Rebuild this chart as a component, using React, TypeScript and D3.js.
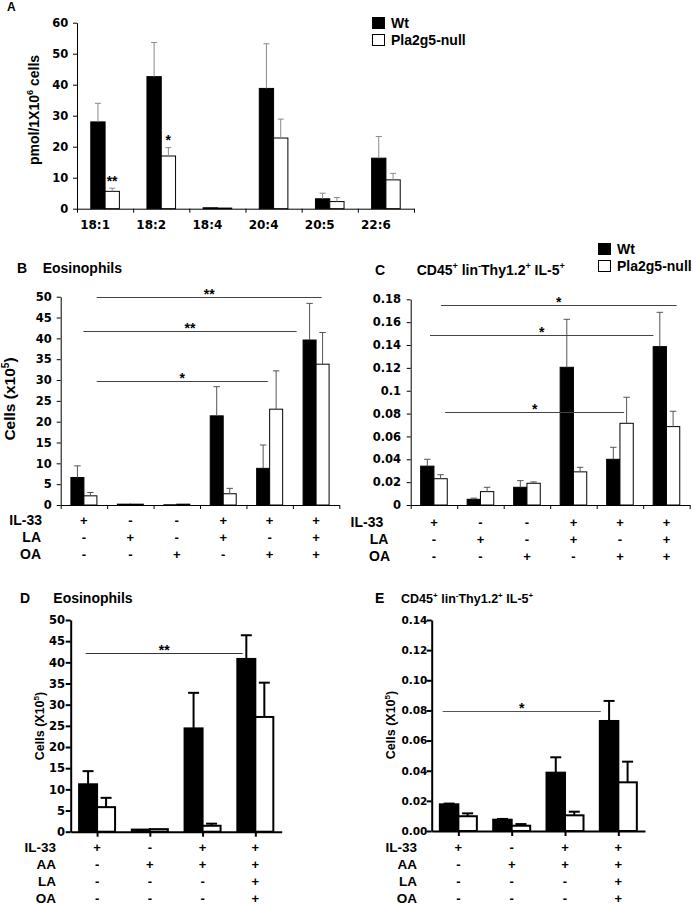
import React, { useEffect, useRef } from "react";
import * as d3 from "d3";

const FONT = "'Liberation Sans', Arial, sans-serif";
const TICKFONT = "'DejaVu Sans', 'Liberation Sans', sans-serif";

// ---------- Panel A: fatty acids ----------
const fattyAcids = ["18:1", "18:2", "18:4", "20:4", "20:5", "22:6"];
const aWt = [28, 42.6, 0.3, 38.8, 3.2, 16.3];
const aWtSd = [6, 11, 0, 14.4, 1.8, 7];
const aNull = [5.6, 17.0, 0.2, 22.8, 2.3, 9.3];
const aNullSd = [1.0, 2.7, 0, 6.1, 1.3, 2.1];
const aNullStars = ["**", "*", "", "", "", ""];
const aTicks = [0, 10, 20, 30, 40, 50, 60];

// ---------- Panel B: eosinophils ----------
const bWt = [6.6, 0.2, 0.05, 21.4, 8.8, 39.6];
const bWtSd = [2.8, 0, 0, 7.0, 5.6, 8.8];
const bNull = [2.2, 0.2, 0.2, 2.7, 23.0, 33.8];
const bNullSd = [0.8, 0, 0, 1.3, 9.2, 7.6];
const bTicks = [0, 5, 10, 15, 20, 25, 30, 35, 40, 45, 50];
const bSig = [
  { from: 0.775, to: 5.62, y: 50, label: "**" },
  { from: 0.487, to: 5.08, y: 41.8, label: "**" },
  { from: 0.775, to: 4.46, y: 29.7, label: "*" },
];

// ---------- Panel C: ILC2 ----------
const cWt = [0.034, 0.005, 0.0155, 0.1205, 0.04, 0.1386];
const cWtSd = [0.006, 0.001, 0.0058, 0.042, 0.0105, 0.03];
const cNull = [0.023, 0.0117, 0.019, 0.029, 0.0715, 0.0686];
const cNullSd = [0.0035, 0.0038, 0.0012, 0.004, 0.0228, 0.0134];
const cTicks = [0, 0.02, 0.04, 0.06, 0.08, 0.1, 0.12, 0.14, 0.16, 0.18];
const cSig = [
  { from: 0.65, to: 5.72, y: 0.175, label: "*" },
  { from: 0.415, to: 5.22, y: 0.1488, label: "*" },
  { from: 0.74, to: 4.59, y: 0.0811, label: "*" },
];

const bcTreatLabels = ["IL-33", "LA", "OA"];
const bcTreat = [
  ["+", "-", "-", "+", "+", "+"],
  ["-", "+", "-", "+", "-", "+"],
  ["-", "-", "+", "-", "+", "+"],
];

// ---------- Panel D: eosinophils ----------
const dWt = [11.2, 0.5, 24.4, 40.8];
const dWtSd = [3.1, 0, 8.4, 5.6];
const dNull = [5.8, 0.6, 1.4, 27.1];
const dNullSd = [2.2, 0, 0.5, 8.1];
const dTicks = [0, 5, 10, 15, 20, 25, 30, 35, 40, 45, 50];
const dSig = [{ from: 0.284, to: 3.26, y: 42.1, label: "**" }];

// ---------- Panel E: ILC2 ----------
const eWt = [0.0177, 0.0075, 0.0387, 0.073];
const eWtSd = [0.0005, 0.0005, 0.0102, 0.0133];
const eNull = [0.0098, 0.0035, 0.0104, 0.0323];
const eNullSd = [0.0019, 0.0011, 0.0024, 0.0137];
const eTicks = [0, 0.02, 0.04, 0.06, 0.08, 0.1, 0.12, 0.14];
const eSig = [{ from: 0.206, to: 3.17, y: 0.0798, label: "*" }];

const deTreatLabels = ["IL-33", "AA", "LA", "OA"];
const deTreat = [
  ["+", "-", "+", "+"],
  ["-", "+", "+", "+"],
  ["-", "-", "-", "+"],
  ["-", "-", "-", "+"],
];

const legendLabels = ["Wt", "Pla2g5-null"];
const ilcTitle: Array<[string, boolean]> = [
  ["CD45", false], ["+", true], [" lin", false], ["-", true],
  ["Thy1.2", false], ["+", true], [" IL-5", false], ["+", true],
];

type Sel = d3.Selection<any, any, any, any>;

function rich(sel: Sel, parts: Array<[string, boolean]>, fs: number) {
  let shifted = false;
  parts.forEach(([t, sup]) => {
    const ts = sel.append("tspan").text(t);
    if (sup) {
      ts.attr("font-size", fs * 0.65);
      if (!shifted) { ts.attr("dy", -fs * 0.4); shifted = true; }
    } else if (shifted) {
      ts.attr("dy", fs * 0.4);
      shifted = false;
    }
  });
}

type Cfg = {
  x0: number; x1: number; yTop: number; yBot: number; yMax: number;
  ticks: number[]; fmt: (v: number) => string; prism: boolean; barW: number;
  wt: number[]; wtSd: number[]; nul: number[]; nulSd: number[];
  errColor: string; capW: number; labelGap: number; tickFs: number;
  sigs: { from: number; to: number; y: number; label: string }[];
  sigColor: string; starFs: number;
};

function drawPanel(root: Sel, c: Cfg) {
  const n = c.wt.length;
  const y = d3.scaleLinear().domain([0, c.yMax]).range([c.yBot, c.yTop]);
  const gx = d3.scaleLinear().domain([0, n]).range([c.x0, c.x1]);
  const band = d3.scaleBand<number>().domain(d3.range(n)).range([c.x0, c.x1]);
  const cx = (i: number) => (band(i) as number) + band.bandwidth() / 2;
  const aw = c.prism ? 2 : 1;
  const g = root.append("g");

  const series = [
    { vals: c.wt, sd: c.wtSd, fill: "#000", off: -c.barW },
    { vals: c.nul, sd: c.nulSd, fill: "#fff", off: 0 },
  ];

  series.forEach((s) => {
    g.append("g")
      .selectAll("rect")
      .data(s.vals)
      .join("rect")
      .attr("x", (_, i) => cx(i) + s.off)
      .attr("width", c.barW)
      .attr("y", (d) => y(d))
      .attr("height", (d) => c.yBot - y(d))
      .attr("fill", s.fill)
      .attr("stroke", "#000")
      .attr("stroke-width", c.prism ? 2 : 1);
  });

  series.forEach((s) => {
    const eg = g.append("g").attr("stroke", c.errColor).attr("stroke-width", c.prism ? 2 : 1);
    s.vals.forEach((v, i) => {
      const sd = s.sd[i];
      if (!sd) return;
      const xc = cx(i) + s.off + c.barW / 2;
      eg.append("line").attr("x1", xc).attr("x2", xc).attr("y1", y(v)).attr("y2", y(v + sd));
      eg.append("line")
        .attr("x1", xc - c.capW / 2).attr("x2", xc + c.capW / 2)
        .attr("y1", y(v + sd)).attr("y2", y(v + sd));
    });
  });

  // y axis
  const ya = g.append("g").attr("transform", `translate(${c.x0},0)`)
    .call(
      d3.axisLeft(y).tickValues(c.ticks).tickFormat((v) => c.fmt(+v))
        .tickSize(c.prism ? 5 : 4).tickSizeOuter(0).tickPadding(c.labelGap - (c.prism ? 5 : 4))
    );
  ya.selectAll("path,line").attr("stroke", "#000").attr("stroke-width", aw);
  ya.selectAll("text").attr("font-family", TICKFONT).attr("font-weight", "bold")
    .attr("font-size", c.tickFs).attr("fill", "#000");

  // x axis
  const xa = g.append("g").attr("transform", `translate(0,${c.yBot})`)
    .call(
      d3.axisBottom(gx)
        .tickValues(c.prism ? d3.range(n).map((i) => i + 0.5) : d3.range(n + 1))
        .tickFormat(() => "").tickSize(c.prism ? 5 : 4).tickSizeOuter(0)
    );
  xa.selectAll("path,line").attr("stroke", "#000").attr("stroke-width", aw);

  // significance lines
  c.sigs.forEach((s) => {
    const xa1 = gx(s.from), xa2 = gx(s.to), yy = Math.round(y(s.y)) + 0.5;
    g.append("line").attr("x1", xa1).attr("x2", xa2).attr("y1", yy).attr("y2", yy)
      .attr("stroke", c.sigColor).attr("stroke-width", 1);
    g.append("text").attr("x", (xa1 + xa2) / 2).attr("y", yy + 1.5)
      .attr("text-anchor", "middle").attr("font-family", FONT).attr("font-weight", "bold")
      .attr("fill", "#000").attr("font-size", c.starFs).text(s.label);
  });

  return { y, cx, band };
}

function text(root: Sel, x: number, yy: number, t: string, fs: number, anchor = "start", family = FONT) {
  return root.append("text").attr("x", x).attr("y", yy).attr("font-family", family)
    .attr("font-weight", "bold").attr("font-size", fs).attr("text-anchor", anchor).attr("fill", "#000").text(t);
}

function legend(root: Sel, x: number, y: number, fs: number) {
  legendLabels.forEach((lab, i) => {
    const yy = y + i * 17;
    root.append("rect").attr("x", x + 0.5).attr("y", yy + 0.5).attr("width", 12).attr("height", 11)
      .attr("fill", i === 0 ? "#000" : "#fff").attr("stroke", "#000").attr("stroke-width", 1);
    text(root, x + 19, yy + 11, lab, fs);
  });
}

function rotTitle(root: Sel, x: number, y: number, parts: Array<[string, boolean]>, fs: number) {
  const t = root.append("text").attr("transform", `translate(${x},${y}) rotate(-90)`)
    .attr("text-anchor", "middle").attr("font-family", FONT).attr("font-weight", "bold")
    .attr("font-size", fs).attr("fill", "#000");
  rich(t, parts, fs);
}

function treatRows(root: Sel, cx: (i: number) => number, labels: string[], rows: string[][],
  labelX: number[], base: number, step: number, fs: number, signFs: number) {
  labels.forEach((lab, r) => {
    const yy = base + r * step;
    text(root, labelX[r], yy, lab, fs, "end");
    rows[r].forEach((s, i) => {
      text(root, cx(i), yy, s, signFs, "middle");
    });
  });
}

export default function App() {
  const ref = useRef<SVGSVGElement>(null);
  useEffect(() => {
    const svg = d3.select(ref.current);
    svg.selectAll("*").remove();
    svg.append("rect").attr("width", 692).attr("height", 905).attr("fill", "#fff");

    const excelFmt = (v: number) => String(+v.toFixed(2));

    // ---- A ----
    text(svg, 7, 11, "A", 12);
    const A = drawPanel(svg, {
      x0: 77, x1: 414, yTop: 22.7, yBot: 208.7, yMax: 60, ticks: aTicks, fmt: (v) => String(v),
      prism: false, barW: 14.3, wt: aWt, wtSd: aWtSd, nul: aNull, nulSd: aNullSd,
      errColor: "#8a8a8a", capW: 6, labelGap: 8.7, tickFs: 11.5, sigs: [], sigColor: "#444", starFs: 14,
    });
    fattyAcids.forEach((f, i) => text(svg, A.cx(i) - 10, 229, f, 12, "middle", TICKFONT));
    aNullStars.forEach((s, i) => {
      if (!s) return;
      text(svg, A.cx(i) + 7, A.y(aNull[i] + aNullSd[i]) - 2.5, s, 14, "middle");
    });
    rotTitle(svg, 39, 110, [["pmol/1X10", false], ["6", true], [" cells", false]], 14);
    legend(svg, 372, 17, 14);

    // ---- B ----
    text(svg, 17, 273, "B", 14);
    text(svg, 42.7, 273, "Eosinophils", 14);
    const B = drawPanel(svg, {
      x0: 60.7, x1: 339.3, yTop: 296.7, yBot: 505, yMax: 50, ticks: bTicks, fmt: (v) => String(v),
      prism: false, barW: 13, wt: bWt, wtSd: bWtSd, nul: bNull, nulSd: bNullSd,
      errColor: "#555", capW: 6.5, labelGap: 9, tickFs: 11.5, sigs: bSig, sigColor: "#444", starFs: 14,
    });
    rotTitle(svg, 15, 399, [["Cells (x10", false], ["5", true], [")", false]], 15.5);
    treatRows(svg, B.cx, bcTreatLabels, bcTreat, [42, 41, 41], 525, 17, 14, 13);

    // ---- C ----
    text(svg, 375, 275, "C", 14);
    const ct = svg.append("text").attr("x", 416.7).attr("y", 275).attr("font-family", FONT)
      .attr("font-weight", "bold").attr("font-size", 14);
    rich(ct, ilcTitle, 14);
    legend(svg, 598, 243, 14);
    const C = drawPanel(svg, {
      x0: 410.7, x1: 689.7, yTop: 299.3, yBot: 505, yMax: 0.18, ticks: cTicks, fmt: excelFmt,
      prism: false, barW: 13.3, wt: cWt, wtSd: cWtSd, nul: cNull, nulSd: cNullSd,
      errColor: "#555", capW: 6.5, labelGap: 9.7, tickFs: 11.5, sigs: cSig, sigColor: "#444", starFs: 14,
    });
    treatRows(svg, C.cx, bcTreatLabels, bcTreat, [383.3, 388.3, 390], 527, 17, 14, 13);

    // ---- D ----
    text(svg, 20, 603, "D", 14);
    text(svg, 53.3, 603, "Eosinophils", 14);
    const D = drawPanel(svg, {
      x0: 70.7, x1: 281.7, yTop: 620, yBot: 831.7, yMax: 50, ticks: dTicks, fmt: (v) => String(v),
      prism: true, barW: 18, wt: dWt, wtSd: dWtSd, nul: dNull, nulSd: dNullSd,
      errColor: "#000", capW: 11, labelGap: 5.7, tickFs: 11.5, sigs: dSig, sigColor: "#333", starFs: 14,
    });
    rotTitle(svg, 44, 726, [["Cells (X10", false], ["5", true], [")", false]], 12.5);
    treatRows(svg, D.cx, deTreatLabels, deTreat, [56, 56, 56, 56], 851.7, 17, 13.5, 13);

    // ---- E ----
    text(svg, 375, 603, "E", 14);
    const et = svg.append("text").attr("x", 401).attr("y", 603).attr("font-family", FONT)
      .attr("font-weight", "bold").attr("font-size", 12.5);
    rich(et, ilcTitle, 12.5);
    const E = drawPanel(svg, {
      x0: 431.7, x1: 645, yTop: 620, yBot: 831, yMax: 0.14, ticks: eTicks, fmt: d3.format(".2f"),
      prism: true, barW: 18.5, wt: eWt, wtSd: eWtSd, nul: eNull, nulSd: eNullSd,
      errColor: "#000", capW: 11, labelGap: 4.4, tickFs: 10.5, sigs: eSig, sigColor: "#555", starFs: 14,
    });
    rotTitle(svg, 394.5, 725, [["Cells (X10", false], ["5", true], [")", false]], 12.5);
    treatRows(svg, E.cx, deTreatLabels, deTreat, [417, 417, 417, 417], 851.7, 17, 13.5, 13);
  }, []);

  return (
    <svg
      ref={ref}
      width={692}
      height={905}
      style={{ position: "absolute", left: 0, top: 0, display: "block" }}
    />
  );
}
